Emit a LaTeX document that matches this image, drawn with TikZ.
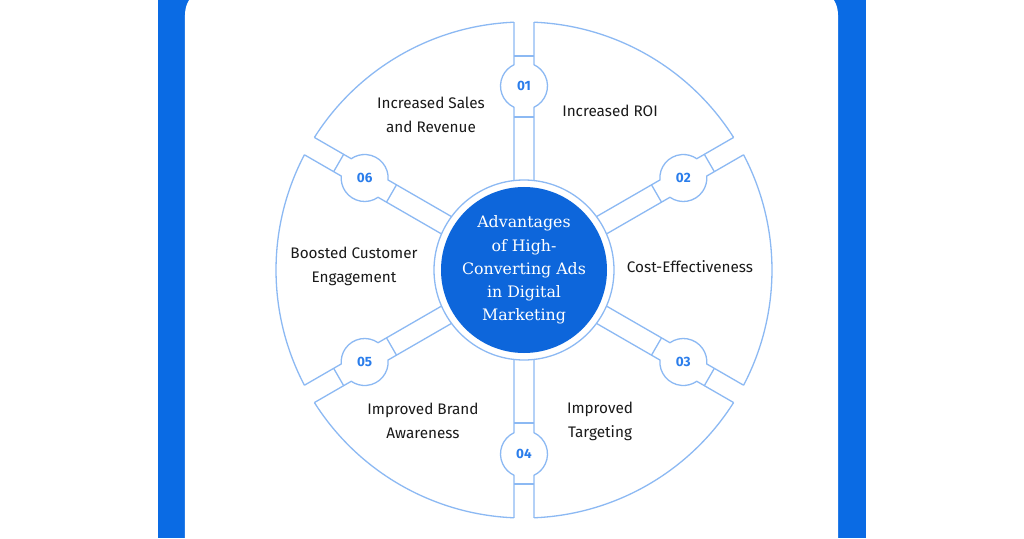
\documentclass[tikz,border=0pt]{standalone}
\usepackage{fontspec}
\setmainfont{Fira Sans}
\newfontfamily\hubfont{DejaVu Serif}
\usetikzlibrary{positioning}
\definecolor{bandblue}{HTML}{0A6BE4}
\definecolor{hubblue}{HTML}{0D66DB}
\definecolor{rimblue}{HTML}{8CB9F3}
\definecolor{numblue}{HTML}{2A7DEB}
\definecolor{labelgray}{HTML}{1A1A1A}

\tikzset{
  rim/.style={draw=rimblue, line width=1.3pt},
  advlabel/.style={align=center, text=labelgray, font=\fontsize{15.3}{24}\selectfont},
  numlabel/.style={text=numblue, font=\fontsize{13.5}{13.5}\selectfont\bfseries},
}

\begin{document}
\begin{tikzpicture}[x=1pt, y=1pt]
  \useasboundingbox (-524,-268) rectangle (500,270);
  % frame: blue band behind a white card
  \fill[white] (-524,-268) rectangle (500,270);
  \fill[bandblue] (-366,-268) rectangle (342,270);
  \fill[white, rounded corners=30pt] (-339,-300) rectangle (314,285);
  % outer arcs of the six blocks
  \foreach \c in {60,0,-60,-120,180,120}
    \draw[rim] (\c+27.69:248) arc[start angle=\c+27.69, end angle=\c-27.69, radius=248];
  % inner ring round the hub
  \draw[rim] (0,0) circle (90);
  % channels between the blocks, with the number bulge
  \foreach \g/\n [count=\i] in {90/01,30/02,-30/03,-90/04,-150/05,150/06} {
    \begin{scope}[rotate=\g]
      \draw[rim] (89.44,10) -- (162.73,10) arc[start angle=154.8, end angle=25.2, radius=23.5] -- (247.8,10);
      \draw[rim] (89.44,-10) -- (162.73,-10) arc[start angle=205.2, end angle=334.8, radius=23.5] -- (247.8,-10);
      \draw[rim] (153,-10) -- (153,10) (214,-10) -- (214,10);
    \end{scope}
    \node[numlabel] (n\i) at (\g:184) {\n};
  }
  % hub
  \node[circle, fill=hubblue, minimum size=166pt, inner sep=0pt, text=white, align=center,
        font=\hubfont\fontsize{15.8}{23.2}\selectfont] (hub) at (0,0)
        {Advantages\\of High-\\Converting Ads\\in Digital\\Marketing};
  % block texts
  \node[advlabel] (sales) at (-93,155) {Increased Sales\\and Revenue};
  \node[advlabel] (roi) at (86,159) {Increased ROI};
  \node[advlabel] (cost) at (166,3) {Cost-Effectiveness};
  \node[advlabel] (target) at (76,-151) {Improved\\Targeting};
  \node[advlabel] (brand) at (-101,-151) {Improved Brand\\Awareness};
  \node[advlabel] (engage) at (-170,4) {Boosted Customer\\Engagement};
\end{tikzpicture}
\end{document}
